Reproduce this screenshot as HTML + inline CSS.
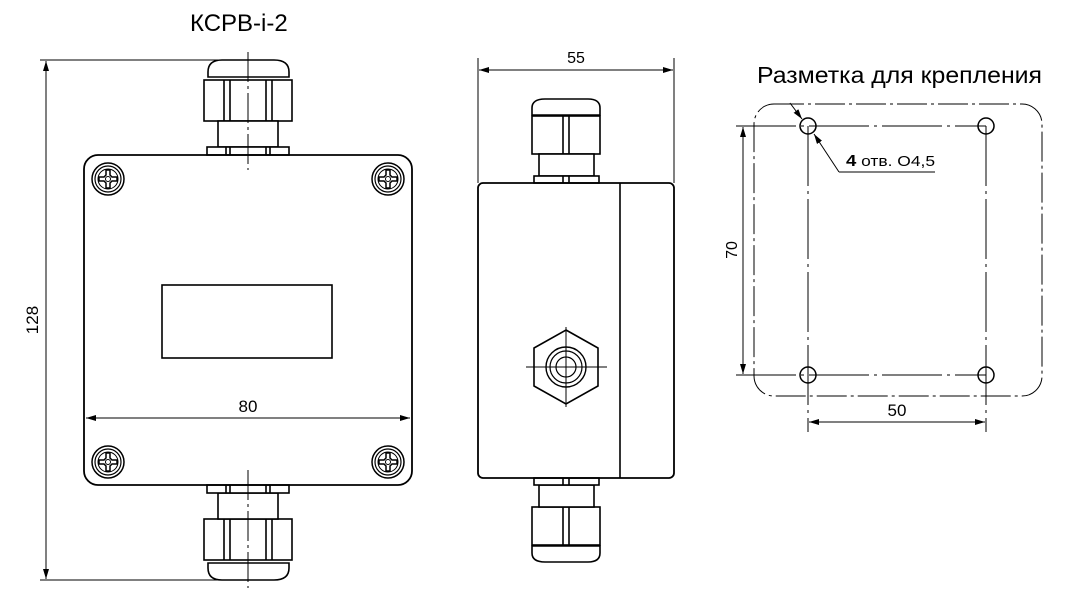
<!DOCTYPE html>
<html><head><meta charset="utf-8"><style>
html,body{margin:0;padding:0;background:#fff;}
svg{display:block;font-family:"Liberation Sans",sans-serif;}
</style></head><body>
<svg width="1092" height="612" viewBox="0 0 1092 612" xmlns="http://www.w3.org/2000/svg">
<defs>
<marker id="ar" viewBox="0 0 10 6" refX="10" refY="3" markerWidth="10" markerHeight="6" orient="auto-start-reverse" markerUnits="userSpaceOnUse"><path d="M0,0 L10,3 L0,6 z" fill="#000"/></marker>
<g id="screw">
<circle r="16" fill="none" stroke="#000" stroke-width="1.5"/>
<circle r="13" fill="none" stroke="#000" stroke-width="1.2"/>
<circle r="10" fill="none" stroke="#000" stroke-width="1"/>
<path d="M-2,-9 L2,-9 L2,-4 L4,-2 L9,-2 L9,2 L4,2 L2,4 L2,9 L-2,9 L-2,4 L-4,2 L-9,2 L-9,-2 L-4,-2 L-2,-4 Z" fill="none" stroke="#000" stroke-width="1.5"/>
<circle r="2.5" fill="none" stroke="#000" stroke-width="1"/>
</g>
<g id="glandL" fill="#fff" stroke="#000" stroke-width="1.6">
<path d="M208,77 L208,72 Q208,60 222,60 L274,60 Q289,60 289,72 L289,77 Z"/>
<rect x="204" y="80" width="88" height="41"/>
<line x1="224" y1="80" x2="224" y2="121"/><line x1="230" y1="80" x2="230" y2="121"/>
<line x1="266" y1="80" x2="266" y2="121"/><line x1="272" y1="80" x2="272" y2="121"/>
<rect x="218" y="121" width="60" height="26"/>
<rect x="207" y="147" width="82" height="8"/>
<line x1="226" y1="147" x2="226" y2="155"/><line x1="230" y1="147" x2="230" y2="155"/>
<line x1="266" y1="147" x2="266" y2="155"/><line x1="270" y1="147" x2="270" y2="155"/>
</g>
<g id="glandM" fill="#fff" stroke="#000" stroke-width="1.6">
<path d="M532,115 L532,108 Q532,99 545,99 L588,99 Q600,99 600,108 L600,115 Z"/>
<rect x="532" y="116" width="68" height="38"/>
<line x1="563" y1="116" x2="563" y2="154"/><line x1="569" y1="116" x2="569" y2="154"/>
<rect x="539" y="154" width="55" height="22"/>
<rect x="534" y="176" width="65" height="7"/>
<line x1="563" y1="176" x2="563" y2="183"/><line x1="569" y1="176" x2="569" y2="183"/>
</g>
</defs>

<text x="190" y="31" font-size="24">КСРВ-i-2</text>

<!-- left view -->
<use href="#glandL"/>
<use href="#glandL" transform="translate(0,640) scale(1,-1)"/>
<rect x="84" y="155" width="328" height="330" rx="14" fill="none" stroke="#000" stroke-width="1.8"/>
<line x1="248" y1="52" x2="248" y2="170" stroke="#000" stroke-width="1" stroke-dasharray="30,4,3,4"/>
<line x1="248" y1="470" x2="248" y2="588" stroke="#000" stroke-width="1" stroke-dasharray="30,4,3,4"/>
<use href="#screw" x="108" y="179"/><use href="#screw" x="388" y="179"/>
<use href="#screw" x="108" y="462"/><use href="#screw" x="388" y="462"/>
<rect x="162" y="285" width="170" height="73" fill="none" stroke="#000" stroke-width="1.6"/>
<line x1="86" y1="418" x2="410" y2="418" stroke="#000" stroke-width="1" marker-start="url(#ar)" marker-end="url(#ar)"/>
<text x="248" y="412" font-size="17" text-anchor="middle">80</text>
<line x1="40" y1="60" x2="268" y2="60" stroke="#000" stroke-width="1"/>
<line x1="40" y1="580" x2="268" y2="580" stroke="#000" stroke-width="1"/>
<line x1="46" y1="61" x2="46" y2="579" stroke="#000" stroke-width="1" marker-start="url(#ar)" marker-end="url(#ar)"/>
<text x="38" y="320" font-size="17" text-anchor="middle" transform="rotate(-90 38 320)">128</text>

<!-- middle view -->
<use href="#glandM"/>
<use href="#glandM" transform="translate(0,661) scale(1,-1)"/>
<rect x="478" y="183" width="196" height="295" rx="5" fill="none" stroke="#000" stroke-width="1.8"/>
<line x1="620" y1="183" x2="620" y2="478" stroke="#000" stroke-width="1.6"/>
<polygon points="566,330 598,348 598,386 566,404 534,386 534,348" fill="none" stroke="#000" stroke-width="1.6"/>
<circle cx="566" cy="367" r="20" fill="none" stroke="#000" stroke-width="1.4"/>
<circle cx="566" cy="367" r="16" fill="none" stroke="#000" stroke-width="1.2"/>
<circle cx="566" cy="367" r="10" fill="none" stroke="#000" stroke-width="1.2"/>
<line x1="526" y1="367" x2="607" y2="367" stroke="#000" stroke-width="1"/>
<line x1="566" y1="327" x2="566" y2="407" stroke="#000" stroke-width="1"/>
<line x1="478" y1="58" x2="478" y2="183" stroke="#000" stroke-width="1"/>
<line x1="674" y1="58" x2="674" y2="183" stroke="#000" stroke-width="1"/>
<line x1="479" y1="70" x2="673" y2="70" stroke="#000" stroke-width="1" marker-start="url(#ar)" marker-end="url(#ar)"/>
<text x="576" y="63" font-size="16" text-anchor="middle">55</text>

<!-- right view -->
<text x="757" y="83" font-size="23" textLength="285" lengthAdjust="spacingAndGlyphs">Разметка для крепления</text>
<rect x="754" y="104" width="288" height="292" rx="20" fill="none" stroke="#000" stroke-width="1" stroke-dasharray="30,4,3,4"/>
<line x1="736" y1="126" x2="986" y2="126" stroke="#000" stroke-width="1" stroke-dasharray="60,5,3,5"/>
<line x1="736" y1="375" x2="986" y2="375" stroke="#000" stroke-width="1" stroke-dasharray="60,5,3,5"/>
<line x1="808" y1="126" x2="808" y2="432" stroke="#000" stroke-width="1" stroke-dasharray="60,5,3,5"/>
<line x1="986" y1="126" x2="986" y2="432" stroke="#000" stroke-width="1" stroke-dasharray="60,5,3,5"/>
<g fill="none" stroke="#000" stroke-width="1.5">
<circle cx="808" cy="126" r="8"/><circle cx="986" cy="126" r="8"/>
<circle cx="808" cy="375" r="8"/><circle cx="986" cy="375" r="8"/>
</g>
<line x1="743" y1="127" x2="743" y2="374" stroke="#000" stroke-width="1" marker-start="url(#ar)" marker-end="url(#ar)"/>
<text x="737" y="250" font-size="16" text-anchor="middle" transform="rotate(-90 737 250)">70</text>
<line x1="809" y1="422" x2="985" y2="422" stroke="#000" stroke-width="1" marker-start="url(#ar)" marker-end="url(#ar)"/>
<text x="897" y="416" font-size="17" text-anchor="middle">50</text>
<line x1="790" y1="103" x2="802" y2="119" stroke="#000" stroke-width="1" marker-end="url(#ar)"/>
<line x1="839" y1="172" x2="814" y2="134" stroke="#000" stroke-width="1" marker-end="url(#ar)"/>
<line x1="839" y1="172" x2="935" y2="172" stroke="#000" stroke-width="1"/>
<text x="846" y="166" font-size="15" textLength="89" lengthAdjust="spacingAndGlyphs"><tspan font-weight="bold" font-size="16">4</tspan> отв. О4,5</text>
</svg>
</body></html>
